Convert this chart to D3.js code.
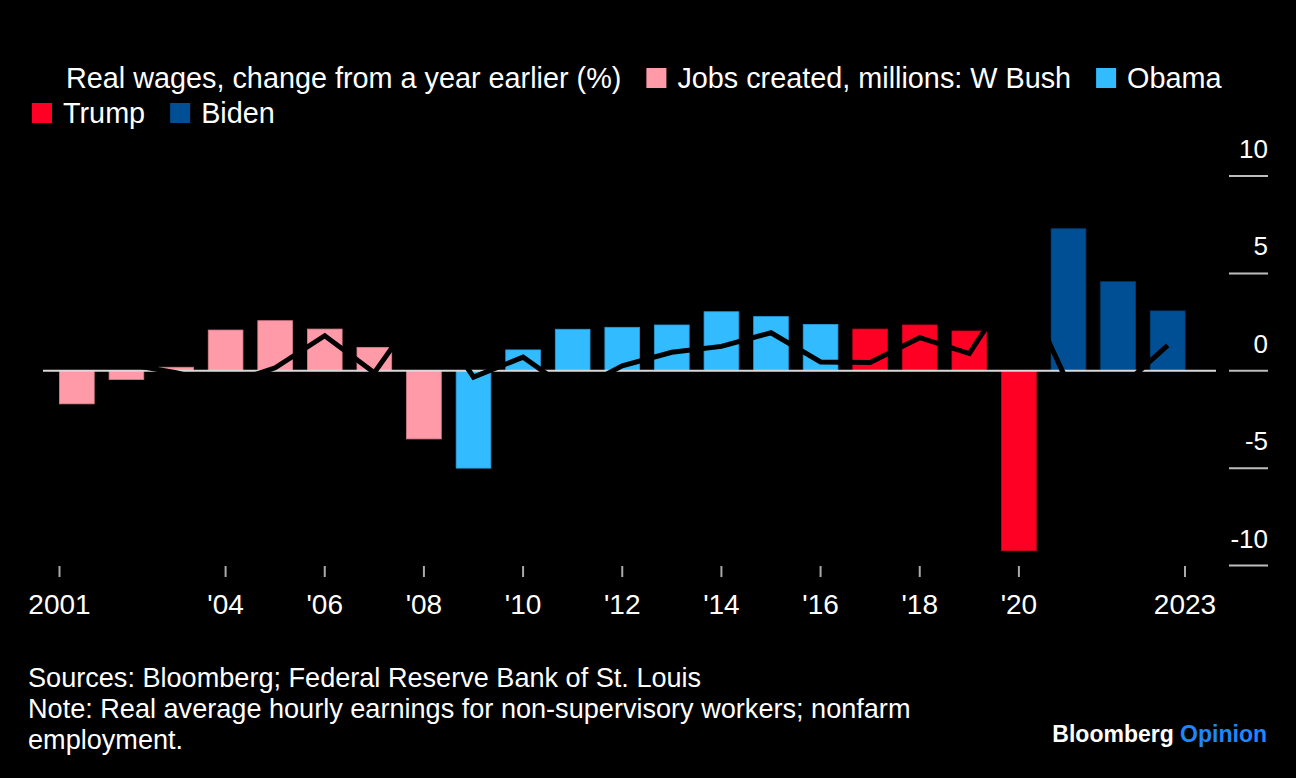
<!DOCTYPE html>
<html><head><meta charset="utf-8">
<script src="https://cdn.jsdelivr.net/npm/d3@7"></script>
<style>html,body{margin:0;padding:0;background:#000;} svg{display:block;}</style>
</head><body><svg id="chart" width="1296" height="778"></svg>
<script>
// ---- data ----
const years = [2001,2002,2003,2004,2005,2006,2007,2008,2009,2010,2011,2012,2013,2014,2015,2016,2017,2018,2019,2020,2021,2022,2023];
const jobsCreated = [-1.7,-0.45,0.18,2.09,2.57,2.14,1.2,-3.5,-5.0,1.07,2.13,2.23,2.35,3.03,2.78,2.38,2.14,2.35,2.04,-9.24,7.29,4.57,3.07];
const realWages = [2.1,0.35,-0.1,-0.7,0.15,1.8,-0.1,3.5,-0.33,0.7,-1.1,0.25,0.95,1.25,1.95,0.45,0.42,1.7,0.88,4.8,-0.7,-1.0,1.3];
const administration = ["W Bush","W Bush","W Bush","W Bush","W Bush","W Bush","W Bush","W Bush","Obama","Obama","Obama","Obama","Obama","Obama","Obama","Obama","Trump","Trump","Trump","Trump","Biden","Biden","Biden"];
const presidents = ["W Bush","Obama","Trump","Biden"];
const presidentColors = ["#ff9aa8","#33bbff","#ff0025","#004f94"];
const legendLabels = ["Real wages, change from a year earlier (%)","Jobs created, millions: W Bush","Obama","Trump","Biden"];
const yTicks = [-10,-5,0,5,10];
const xTickYears = [2001,2004,2006,2008,2010,2012,2014,2016,2018,2020,2023];
const xTickLabels = ["2001","'04","'06","'08","'10","'12","'14","'16","'18","'20","2023"];
const sourceLine = "Sources: Bloomberg; Federal Reserve Bank of St. Louis";
const noteLines = ["Note: Real average hourly earnings for non-supervisory workers; nonfarm","employment."];

// ---- drawing ----
const FONT = "'Liberation Sans', Arial, Helvetica, sans-serif";
const svg = d3.select("#chart").style("font-family", FONT);
svg.append("rect").attr("width",1296).attr("height",778).attr("fill","#000");

const color = d3.scaleOrdinal().domain(presidents).range(presidentColors);
const x = d3.scaleBand().domain(years).range([59.5,1185]).paddingInner(0.3).paddingOuter(0);
const bw = x.bandwidth();
const y = d3.scaleLinear().domain([-10,10]).range([565.5,176]);

const data = years.map((yr,i)=>({year:yr, jobs:jobsCreated[i], wage:realWages[i], admin:administration[i]}));

// bars
svg.append("g").selectAll("rect").data(data).join("rect")
  .attr("x", d=>x(d.year))
  .attr("y", d=>Math.min(y(d.jobs), y(0)))
  .attr("width", bw)
  .attr("height", d=>Math.abs(y(d.jobs)-y(0)))
  .attr("fill", d=>color(d.admin))
  .attr("stroke", d=>d3.color(color(d.admin)).darker(0.5))
  .attr("stroke-width", 0.8);

// zero line
svg.append("line").attr("x1",43).attr("x2",1216).attr("y1",y(0)).attr("y2",y(0))
  .attr("stroke","#d9d9d9").attr("stroke-width",2);

// real wages line
const line = d3.line().x(d=>x(d.year)+bw/2).y(d=>y(d.wage));
svg.append("path").datum(data).attr("d",line)
  .attr("fill","none").attr("stroke","#000").attr("stroke-width",5)
  .attr("stroke-linejoin","miter");

// y axis (right)
const yAxis = svg.append("g");
yTicks.forEach(t=>{
  yAxis.append("line").attr("x1",1229).attr("x2",1268).attr("y1",y(t)).attr("y2",y(t))
    .attr("stroke","#bdbdbd").attr("stroke-width",2);
  yAxis.append("text").attr("x",1268).attr("y",y(t)-18).attr("text-anchor","end")
    .attr("fill","#fff").attr("font-size",26).text(t);
});

// x axis
const xAxis = svg.append("g");
xTickYears.forEach((yr,i)=>{
  let px = x(yr)+bw/2;
  if (i===0) px = x(yr);
  if (i===xTickYears.length-1) px = x(yr)+bw;
  xAxis.append("line").attr("x1",px).attr("x2",px).attr("y1",566).attr("y2",577)
    .attr("stroke","#aaa").attr("stroke-width",2);
  xAxis.append("text").attr("x",px).attr("y",614).attr("text-anchor","middle")
    .attr("fill","#fff").attr("font-size",28).text(xTickLabels[i]);
});

// legend
const legend = svg.append("g");
const rowBase = [88,123];
let lx = 32, row = 0;
legendLabels.forEach((lab,i)=>{
  const g = legend.append("g");
  const isLine = i===0;
  const symW = isLine ? 23 : 20;
  const t = g.append("text").attr("font-size",28.8).attr("fill","#fff").text(lab);
  const tw = t.node().getComputedTextLength();
  const itemW = symW + 11 + tw;
  if (lx + itemW > 1250) { row++; lx = 32; }
  const base = rowBase[row];
  if (isLine) {
    g.append("line").attr("x1",lx).attr("x2",lx+symW).attr("y1",base-10).attr("y2",base-10)
      .attr("stroke","#000").attr("stroke-width",4);
  } else {
    g.append("rect").attr("x",lx).attr("y",base-20).attr("width",symW).attr("height",20)
      .attr("fill",presidentColors[i-1]);
  }
  t.attr("x",lx+symW+11).attr("y",base);
  lx += itemW + 25;
});

// footer
svg.append("text").attr("x",28).attr("y",687).attr("fill","#fff").attr("font-size",27.1).text(sourceLine);
noteLines.forEach((l,i)=>{
  svg.append("text").attr("x",28).attr("y",718+i*30.5).attr("fill","#fff").attr("font-size",27.1).text(l);
});

// logo
const logo = svg.append("text").attr("x",1267).attr("y",742).attr("text-anchor","end")
  .attr("font-size",23).attr("font-weight","bold");
logo.append("tspan").attr("fill","#fff").text("Bloomberg");
logo.append("tspan").attr("fill","#1f86ff").text(" Opinion");
</script>
</body></html>
